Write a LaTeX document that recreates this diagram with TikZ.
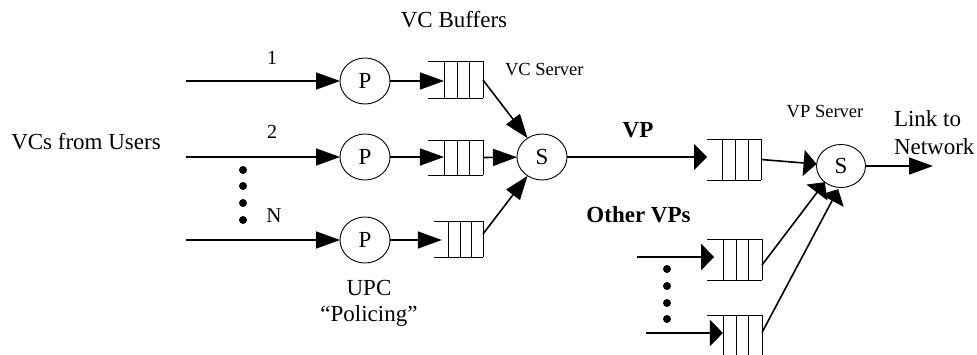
\documentclass[tikz,border=0pt]{standalone}
\usepackage{fontspec}
\setmainfont{Liberation Serif}
\usetikzlibrary{arrows.meta,shapes.geometric,calc}

% open-ended queue: top and bottom rails plus four cell walls
\newcommand\qlines[1]{%
  \draw[qline] (#1.north west) -- (#1.north east) (#1.south west) -- (#1.south east);
  \foreach \f in {0.29,0.53,0.76,1}{%
    \draw[qline] ($(#1.north west)!\f!(#1.north east)$) -- ($(#1.south west)!\f!(#1.south east)$);}%
}

\begin{document}
\begin{tikzpicture}[x=1pt,y=-1pt,
  every node/.style={inner sep=0pt, outer sep=0pt},
  big/.style={font=\fontsize{23}{25}\selectfont},
  bigb/.style={font=\fontsize{23}{25}\selectfont\bfseries},
  small/.style={font=\fontsize{18.5}{21}\selectfont},
  num/.style={font=\fontsize{20}{22}\selectfont},
  srv/.style={ellipse, draw, line width=0.9pt, minimum width=50pt, minimum height=46pt, big},
  qbox/.style={rectangle, minimum width=55pt, minimum height=37pt},
  qline/.style={line width=0.9pt},
  conn/.style={line width=1.6pt},
  longtip/.style={conn, -{Triangle[length=24pt,width=17pt]}},
  widetip/.style={conn, -{Triangle[length=13pt,width=26pt]}},
]
\useasboundingbox (0,0) rectangle (977,355);

% policers
\node[srv] (P1) at (365,81) {P};
\node[srv] (P2) at (365,157) {P};
\node[srv] (P3) at (365,240) {P};

% per-VC buffers
\node[qbox] (Q1) at (455.5,80) {};
\node[qbox, minimum height=35pt] (Q2) at (455.5,157.5) {};
\node[qbox, minimum width=49pt, minimum height=36pt] (Q3) at (458.5,239) {};
\qlines{Q1}\qlines{Q2}\qlines{Q3}

% VC server
\node[srv] (S) at (542,157) {S};

% VP buffers
\node[qbox, minimum width=54pt, minimum height=41pt] (QV) at (734,159.5) {};
\node[qbox, minimum width=55pt, minimum height=41pt] (QA) at (734.5,260) {};
\node[qbox, minimum width=55pt, minimum height=41pt] (QB) at (734.5,335.5) {};
\qlines{QV}\qlines{QA}\qlines{QB}

% VP server
\node[srv, minimum width=49pt, minimum height=43pt] (VS) at (841,166) {S};

% free ends and arrow targets
\coordinate (in1) at (186,81);
\coordinate (in2) at (186,157);
\coordinate (in3) at (186,240);
\coordinate (inA) at (637,257);
\coordinate (inB) at (646,333);
\coordinate (out) at (933,166);
\coordinate (t1) at ($(Q1.west)!0.29!(Q1.east)$);
\coordinate (t2) at ($(Q2.west)!0.29!(Q2.east)$);
\coordinate (t3) at ($(Q3.west)!0.16!(Q3.east)$);
\coordinate (tA) at ($(QA.west)!0.13!(QA.east)$);
\coordinate (tB) at ($(QB.west)!0.29!(QB.east)$);

% user VCs into the policers
\draw[longtip] (in1) -- (P1);
\draw[longtip] (in2) -- (P2);
\draw[longtip] (in3) -- (P3);

% policers into buffers
\draw[longtip] (P1.east) -- (P1.east -| t1);
\draw[longtip] (P2.east) -- (P2.east -| t2);
\draw[longtip] (P3.east) -- (P3.east -| t3);

% buffers into the VC server
\draw[longtip] (Q1.east) -- (S);
\draw[longtip] (Q2.east) -- (S);
\draw[longtip] ([yshift=5pt]Q3.east) -- (S);

% VC server onto the VP
\draw[widetip] (S.east) -- (S.east -| QV.west);

% other VPs
\draw[widetip] (inA) -- (inA -| tA);
\draw[widetip] (inB) -- (inB -| tB);

% VP buffers into the VP server
\draw[widetip] (QV.east) -- (VS);
\draw[widetip] ([yshift=-5pt]QA.east) -- (VS.225);
\draw[widetip, shorten >=2pt] ([yshift=3pt]QB.east) -- (VS.265);

% link to network
\draw[longtip] (VS.east) -- (out);

% continuation dots
\foreach \y in {170,186,203,220} \fill (243,\y) circle (4pt);
\foreach \y in {269,286,303,319} \fill (667,\y) circle (4pt);

% labels (multi-line nodes sit on the baseline of their last line)
\node[big, anchor=base] (tBuf) at (454,28) {VC Buffers};
\node[small, anchor=base west] (tVCS) at (505,76) {VC Server};
\node[big, anchor=base] (tUsers) at (86,150) {VCs from Users};
\node[num, anchor=base] (l1) at (272,65) {1};
\node[num, anchor=base] (l2) at (272,139) {2};
\node[font=\fontsize{21}{23}\selectfont, anchor=base] (lN) at (274,223) {N};
\node[big, anchor=base, align=center] (tUPC) at (369,321) {UPC\\“Policing”};
\node[bigb, anchor=base] (tVP) at (638,138) {VP};
\node[bigb, anchor=base] (tOther) at (638.5,223) {Other VPs};
\node[small, anchor=base] (tVPS) at (825,118) {VP Server};
\node[font=\fontsize{23}{28}\selectfont, anchor=base west, align=left] (tLink) at (894,155) {Link to\\Network};
\end{tikzpicture}
\end{document}
